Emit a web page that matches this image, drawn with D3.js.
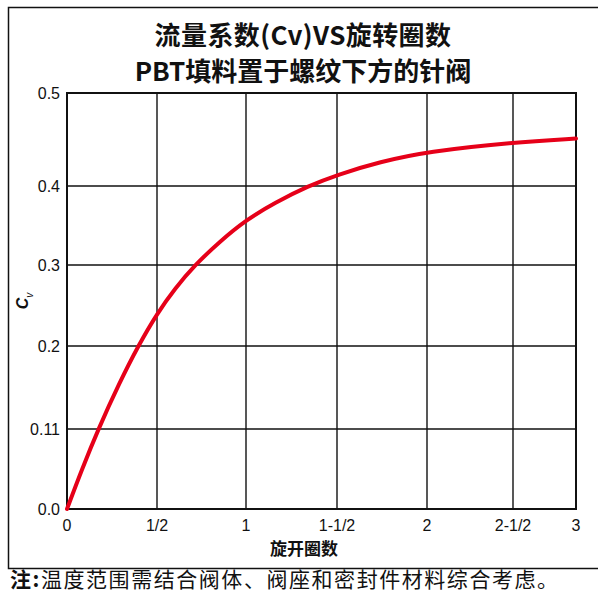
<!DOCTYPE html>
<html>
<head>
<meta charset="utf-8">
<script src="https://cdn.jsdelivr.net/npm/d3@7"></script>
<style>
  body { margin: 0; background: #fff; }
  svg { display: block; }
</style>
</head>
<body>
<div id="chart"></div>
<script>
// curve: turns open vs Cv
var turns = [0, 0.082, 0.174, 0.291, 0.395, 0.5, 0.601, 0.713, 0.854, 1, 1.159, 1.342, 1.5, 1.739, 2, 2.5, 3];
var cv    = [0, 0.054, 0.11, 0.16, 0.2, 0.24, 0.271, 0.3, 0.33, 0.357, 0.379, 0.4, 0.412, 0.426, 0.437, 0.447, 0.451];

var xTicks = [0, 0.5, 1, 1.5, 2, 2.5, 3];
var xTickLabels = ["0", "1/2", "1", "1-1/2", "2", "2-1/2", "3"];
var yTicks = [0, 0.11, 0.2, 0.3, 0.4, 0.5];
var yTickLabels = ["0.0", "0.11", "0.2", "0.3", "0.4", "0.5"];

var titleLines = ["流量系数(Cv)VS旋转圈数", "PBT填料置于螺纹下方的针阀"];
var xTitle = "旋开圈数";
var noteLabel = "注:";
var noteText = "温度范围需结合阀体、阀座和密封件材料综合考虑。";

var width = 598, height = 592;

// the grid in the original is not evenly spaced, so the scales are piecewise
var xStops = [67, 157, 246, 337, 427, 513, 576];
var yStops = [509, 429, 346, 265, 186, 93];

var x = d3.scaleLinear().domain(xTicks).range(xStops);
var y = d3.scaleLinear().domain(yTicks).range(yStops);

var svg = d3.select("#chart").append("svg")
    .attr("width", width)
    .attr("height", height);

// outer frame
svg.append("rect")
    .attr("x", 8.5).attr("y", 7.5)
    .attr("width", 600).attr("height", 561)
    .attr("fill", "none")
    .attr("stroke", "#111")
    .attr("stroke-width", 1.5);

// title
svg.append("g")
    .attr("font-family", "'Noto Sans CJK SC', sans-serif")
    .attr("font-weight", 700)
    .attr("font-size", 26)
    .attr("text-anchor", "middle")
    .attr("fill", "#111")
    .selectAll("text")
    .data(titleLines).enter()
    .append("text")
    .attr("x", 303)
    .attr("y", (d, i) => 45 + i * 36)
    .attr("letter-spacing", (d, i) => i === 0 ? 0.4 : 0)
    .text(d => d);

// grid
var grid = svg.append("g")
    .attr("stroke", "#111")
    .attr("stroke-width", 1.4);

grid.selectAll("line.v").data(xTicks).enter()
    .append("line")
    .attr("class", "v")
    .attr("x1", d => x(d)).attr("x2", d => x(d))
    .attr("y1", y(0.5)).attr("y2", y(0));

grid.selectAll("line.h").data(yTicks).enter()
    .append("line")
    .attr("class", "h")
    .attr("x1", x(0)).attr("x2", x(3))
    .attr("y1", d => y(d)).attr("y2", d => y(d));

// plot frame a bit heavier
svg.append("rect")
    .attr("x", x(0)).attr("y", y(0.5))
    .attr("width", x(3) - x(0)).attr("height", y(0) - y(0.5))
    .attr("fill", "none")
    .attr("stroke", "#111")
    .attr("stroke-width", 2);

// tick labels
svg.append("g")
    .attr("font-family", "'Liberation Sans', Arial, sans-serif")
    .attr("font-size", 16)
    .attr("text-anchor", "end")
    .attr("fill", "#111")
    .selectAll("text")
    .data(yTicks).enter()
    .append("text")
    .attr("x", x(0) - 7)
    .attr("y", d => y(d) + 6)
    .text((d, i) => yTickLabels[i]);

svg.append("g")
    .attr("font-family", "'Liberation Sans', Arial, sans-serif")
    .attr("font-size", 16)
    .attr("text-anchor", "middle")
    .attr("fill", "#111")
    .selectAll("text")
    .data(xTicks).enter()
    .append("text")
    .attr("x", d => x(d))
    .attr("y", y(0) + 22)
    .text((d, i) => xTickLabels[i]);

// axis titles
svg.append("text")
    .attr("x", 304)
    .attr("y", 555)
    .attr("text-anchor", "middle")
    .attr("font-family", "'Noto Sans CJK SC', sans-serif")
    .attr("font-weight", 700)
    .attr("font-size", 17)
    .attr("fill", "#111")
    .text(xTitle);

var yt = svg.append("text")
    .attr("transform", "translate(28,301) rotate(-90)")
    .attr("text-anchor", "middle")
    .attr("font-family", "'Liberation Sans', Arial, sans-serif")
    .attr("fill", "#111");
yt.append("tspan")
    .attr("font-size", 16)
    .attr("font-weight", 700)
    .attr("font-style", "italic")
    .text("C");
yt.append("tspan")
    .attr("font-size", 10)
    .attr("font-style", "italic")
    .attr("dy", 5)
    .text("v");

// curve (basis smooths out the reading noise a little)
var line = d3.line()
    .x((d, i) => x(turns[i]))
    .y((d, i) => y(cv[i]))
    .curve(d3.curveBasis);

svg.append("path")
    .datum(cv)
    .attr("d", line)
    .attr("fill", "none")
    .attr("stroke", "#e60019")
    .attr("stroke-width", 4)
    .attr("stroke-linecap", "round");

// footnote
var note = svg.append("text")
    .attr("x", 10)
    .attr("y", 587)
    .attr("font-family", "'Noto Sans CJK SC', sans-serif")
    .attr("font-size", 21)
    .attr("letter-spacing", 1.55)
    .attr("fill", "#111");
note.append("tspan").attr("font-weight", 700).text(noteLabel);
note.append("tspan").text(noteText);
</script>
</body>
</html>
